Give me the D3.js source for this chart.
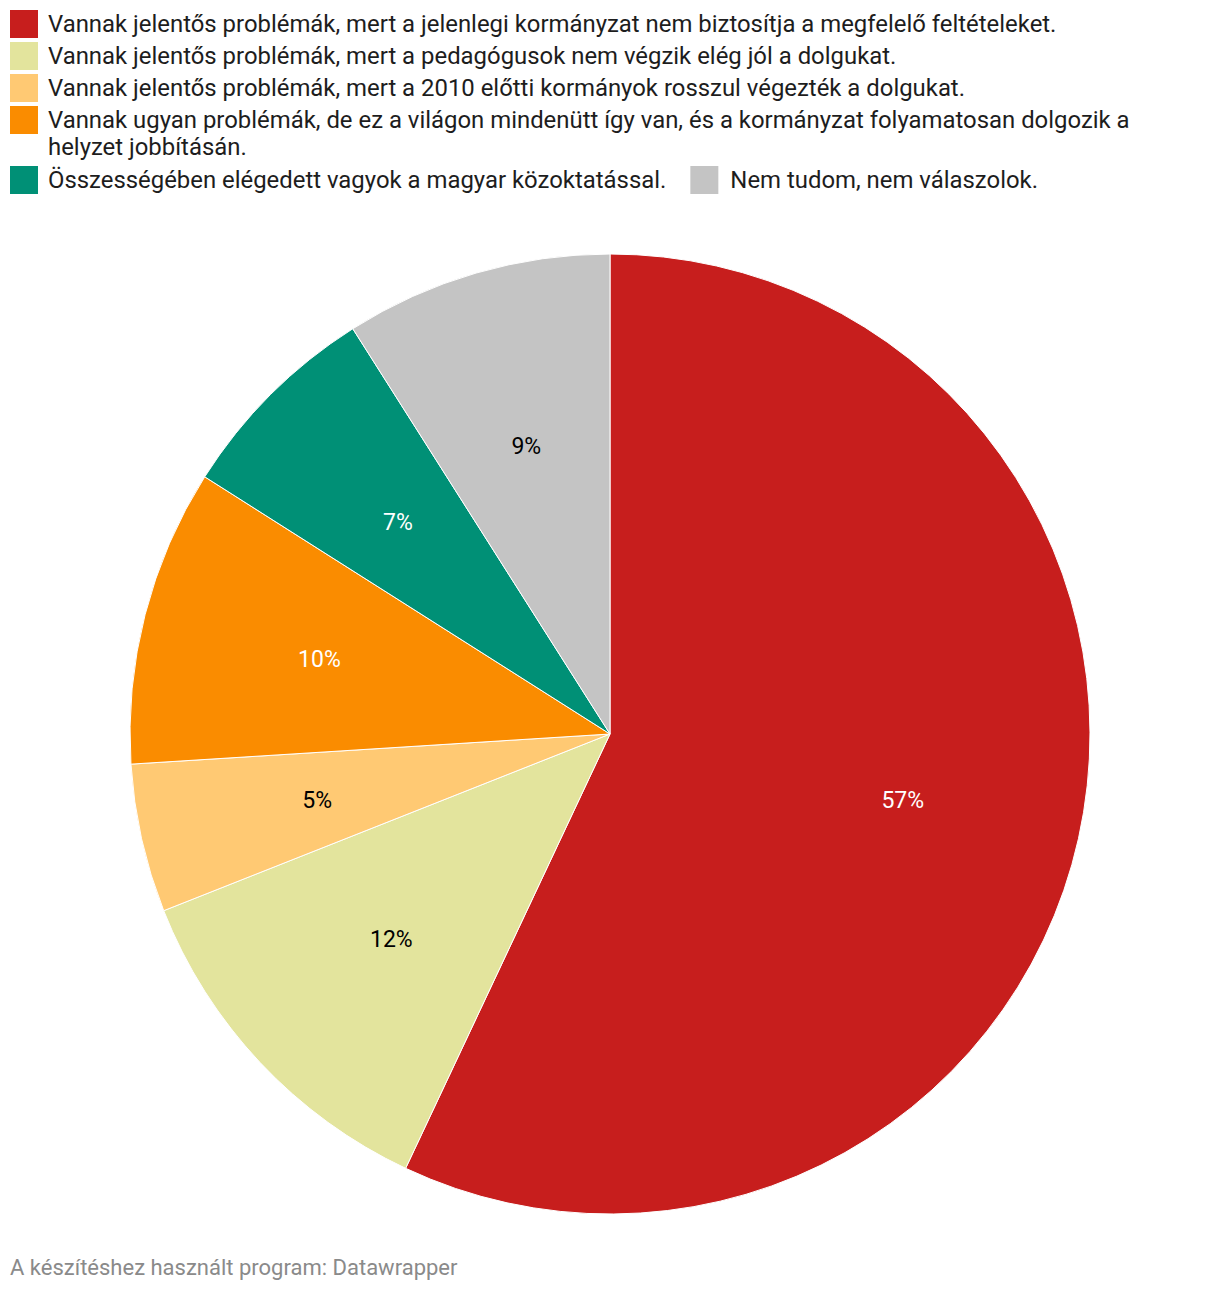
<!DOCTYPE html>
<html>
<head>
<meta charset="utf-8">
<script src="https://cdn.jsdelivr.net/npm/d3@7"></script>
<style>
  html, body { margin: 0; padding: 0; background: #fff; }
  svg { display: block; font-family: Roboto, "Noto Sans", sans-serif; }
</style>
</head>
<body>
<svg id="chart" width="1220" height="1290"></svg>
<script>
// ---- data ----
const categories = [
  "Vannak jelentős problémák, mert a jelenlegi kormányzat nem biztosítja a megfelelő feltételeket.",
  "Vannak jelentős problémák, mert a pedagógusok nem végzik elég jól a dolgukat.",
  "Vannak jelentős problémák, mert a 2010 előtti kormányok rosszul végezték a dolgukat.",
  "Vannak ugyan problémák, de ez a világon mindenütt így van, és a kormányzat folyamatosan dolgozik a helyzet jobbításán.",
  "Összességében elégedett vagyok a magyar közoktatással.",
  "Nem tudom, nem válaszolok."
];
const values = [57, 12, 5, 10, 7, 9];
const colors = ["#c71e1d", "#e3e49d", "#ffc973", "#fa8c00", "#009076", "#c4c4c4"];
const labelColors = ["#ffffff", "#000000", "#000000", "#ffffff", "#ffffff", "#000000"];
const footer = "A készítéshez használt program: Datawrapper";

// ---- layout ----
const W = 1220, H = 1290;
const svg = d3.select("#chart");
svg.append("rect").attr("width", W).attr("height", H).attr("fill", "#fff");

const data = categories.map((c, i) => ({ name: c, value: values[i], color: colors[i], labelColor: labelColors[i] }));

// Legend
const legend = svg.append("g").attr("class", "legend");
const fs = 23.9, sw = 28, lineH = 27, maxTextW = 1110;
let lx = 10, ly = 10;
const measure = svg.append("text").attr("font-size", fs).attr("visibility", "hidden");
function wrap(str) {
  const words = str.split(" ");
  const lines = []; let cur = "";
  for (const w of words) {
    const t = cur ? cur + " " + w : w;
    measure.text(t);
    if (measure.node().getComputedTextLength() > maxTextW && cur) { lines.push(cur); cur = w; }
    else cur = t;
  }
  lines.push(cur);
  return lines;
}
data.forEach((d, i) => {
  const lines = wrap(d.name);
  measure.text(d.name);
  const fullW = measure.node().getComputedTextLength();
  const gap = i === 5 ? 12 : 10;
  const g = legend.append("g").attr("transform", `translate(${lx},${ly})`);
  g.append("rect").attr("width", sw).attr("height", sw).attr("fill", d.color);
  const t = g.append("text").attr("font-size", fs).attr("fill", "#1d1d1d");
  lines.forEach((ln, k) => {
    t.append("tspan").attr("x", sw + gap).attr("y", 22 + k * lineH).text(ln);
  });
  if (i === 4) {
    lx = lx + sw + gap + fullW + 24;
  } else {
    lx = 10;
    ly += 32 + (lines.length - 1) * 28;
  }
});
measure.remove();

// Pie
const cx = 610, cy = 734, R = 480, labelR = 300;
const pie = d3.pie().value(d => d.value).sort(null);
const arc = d3.arc().innerRadius(0).outerRadius(R);
const labelArc = d3.arc().innerRadius(labelR).outerRadius(labelR);
const pg = svg.append("g").attr("transform", `translate(${cx},${cy})`);
const arcs = pie(data);
pg.selectAll("path").data(arcs).join("path")
  .attr("d", arc).attr("fill", d => d.data.color)
  .attr("stroke", "#fff").attr("stroke-width", 1);
pg.selectAll("text").data(arcs).join("text")
  .attr("transform", d => `translate(${labelArc.centroid(d)})`)
  .attr("text-anchor", "middle").attr("dy", "0.35em")
  .attr("font-size", 23).attr("fill", d => d.data.labelColor)
  .text(d => d3.format(".0f")(d.data.value) + "%");

// Footer
svg.append("text").attr("x", 10).attr("y", 1275).attr("font-size", 22)
  .attr("fill", "#8a8a8a").text(footer);
</script>
</body>
</html>
